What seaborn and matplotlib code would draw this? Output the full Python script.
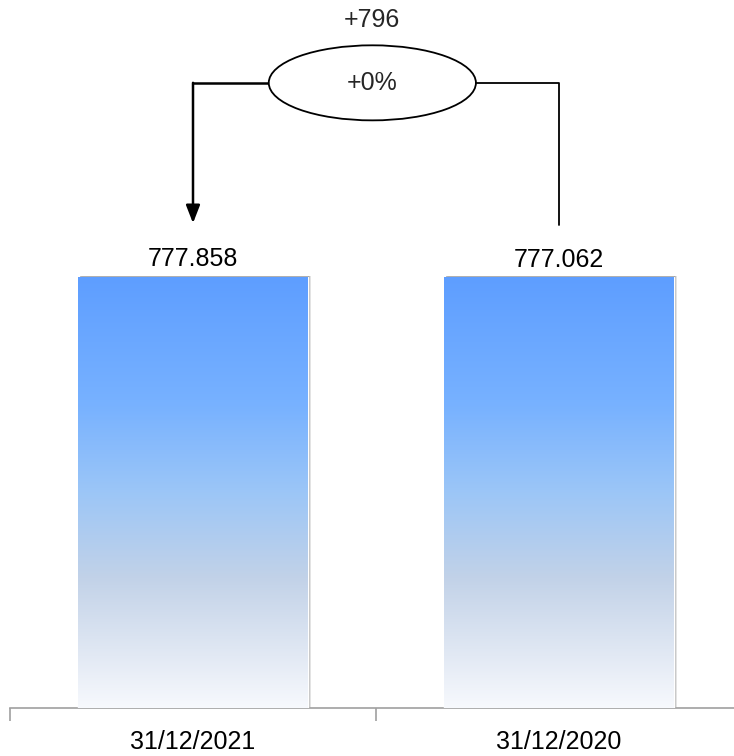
import numpy as np
import pandas as pd
import matplotlib
matplotlib.use('Agg')
import matplotlib.pyplot as plt
import seaborn as sns
from matplotlib.colors import LinearSegmentedColormap
from matplotlib.patches import Ellipse, Rectangle

dates = ['31/12/2021', '31/12/2020']
values = [777858, 777062]

df = pd.DataFrame({'date': dates, 'value': values})
diff = values[0] - values[1]
pct = diff / values[1] * 100

def fmt(v):
    return '{:,}'.format(v).replace(',', '.')

sns.set_theme(style='white')
plt.rcParams['font.family'] = ['Liberation Sans', 'DejaVu Sans']

fig = plt.figure(figsize=(7.34, 7.56), dpi=100)
ax = fig.add_axes([10 / 734, 48 / 756, 732 / 734, 708 / 756])

sns.barplot(data=df, x='date', y='value', color='#5f9fff', width=0.626, ax=ax, zorder=3)

top = max(values) * 708 / 431

# gradient fill + soft shadow for each bar
grad = LinearSegmentedColormap.from_list('g', [
    (0.00, '#f7f9fd'),
    (0.12, '#e2e9f4'),
    (0.30, '#c2d2e8'),
    (0.50, '#9cc6f7'),
    (0.70, '#78b2ff'),
    (1.00, '#5e9eff'),
])
img = np.linspace(0, 1, 256).reshape(-1, 1)
for p in ax.patches:
    x0, w, h = p.get_x(), p.get_width(), p.get_height()
    for k, a in [(0.010, 0.25), (0.007, 0.45), (0.004, 0.7)]:
        ax.add_patch(Rectangle((x0 + k, 0), w, h * 1.003, color='#909090', alpha=a, zorder=2, lw=0))
    im = ax.imshow(img, cmap=grad, origin='lower', aspect='auto',
                   extent=(x0, x0 + w, 0, h), zorder=4)
    im.set_clip_path(p)
    ax.text(x0 + w / 2, h + top * 0.008, fmt(int(h)), ha='center', va='bottom',
            fontsize=18, color='black')
ax.set_xlim(-0.5, 1.5)
ax.set_ylim(0, top)

# axis styling
for s in ['top', 'right', 'left']:
    ax.spines[s].set_visible(False)
ax.spines['bottom'].set_color('#a0a0a0')
ax.spines['bottom'].set_linewidth(1.2)
ax.set_yticks([])
ax.set_xticks([-0.5, 0.5, 1.5], minor=True)
ax.tick_params(axis='x', which='minor', length=9, color='#a0a0a0', width=1.2, bottom=True)
ax.tick_params(axis='x', which='major', length=0, labelsize=18, pad=16, labelcolor='black')
ax.set_xlabel('')
ax.set_ylabel('')

# change bracket
ybr = top * 0.883
yl = values[0] + top * 0.076
yr = values[1] + top * 0.074
ew, eh = 0.566, top * 0.106
ex = 0.49
ax.plot([0, ex - ew / 2], [ybr, ybr], color='black', lw=1.8, zorder=5, solid_capstyle='projecting')
ax.annotate('', xy=(0, yl), xytext=(0, ybr),
            arrowprops=dict(arrowstyle='-|>,head_length=0.9,head_width=0.35', color='black', lw=1.8,
                            shrinkA=0, shrinkB=0), zorder=5)
ax.plot([ex + ew / 2, 1, 1], [ybr, ybr, yr], color='black', lw=1.3, zorder=5)
ax.add_patch(Ellipse((ex, ybr), ew, eh, facecolor='white', edgecolor='black', lw=1.3, zorder=6))
ax.text(ex, ybr, '{:+.0f}%'.format(pct), ha='center', va='center', fontsize=18, zorder=7)
ax.text(ex, top * 0.972, '{:+,}'.format(diff).replace(',', '.'), ha='center', va='center',
        fontsize=18)

fig.savefig('out.png', dpi=100)
